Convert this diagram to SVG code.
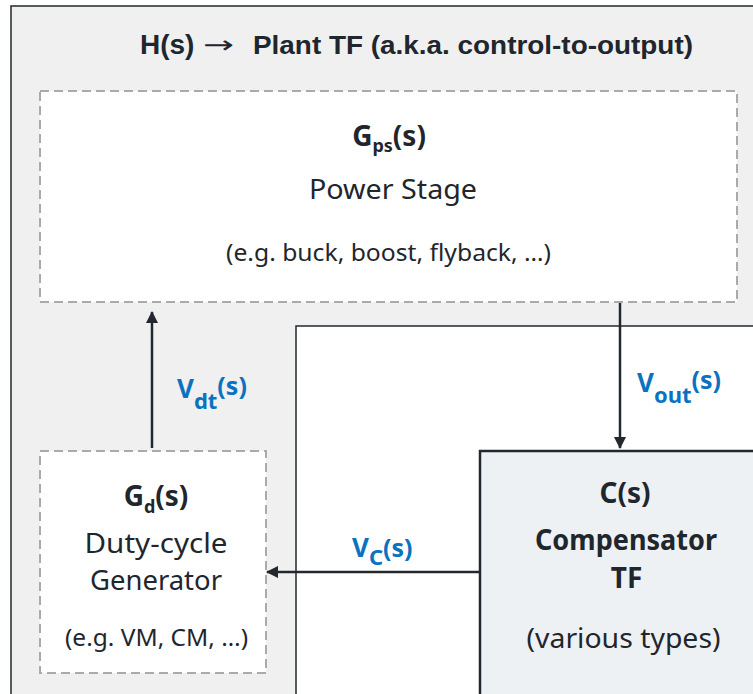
<svg xmlns="http://www.w3.org/2000/svg" width="753" height="694" viewBox="0 0 753 694">
<style>
.t{font-family:"Noto Sans","DejaVu Sans",sans-serif;fill:#1f262d}
.b{font-weight:bold}
.lbl{font-family:"Noto Sans","DejaVu Sans",sans-serif;font-weight:bold;fill:#0b72c0}
.dash{fill:#ffffff;stroke:#aaaaaa;stroke-width:2;stroke-dasharray:9 5}
.conn{stroke:#22282e;stroke-width:2.5;fill:none}
</style>
<defs>
<marker id="ah" viewBox="0 0 12 12" refX="11" refY="6" markerWidth="12" markerHeight="12" markerUnits="userSpaceOnUse" orient="auto">
<path d="M0,0 L12,6 L0,12 z" fill="#22282e"/>
</marker>
</defs>
<g id="plant">
<rect x="11" y="6" width="800" height="750" fill="#f0f0f0" stroke="#22282e" stroke-width="1.5"/>
<text x="140" y="54" font-family="'Liberation Sans',Arial,sans-serif" font-weight="bold" font-size="28" fill="#1f262d">H(s)</text>
<text x="203" y="53" font-family="'DejaVu Sans',sans-serif" font-size="24" fill="#1f262d" textLength="31" lengthAdjust="spacingAndGlyphs">→</text>
<text x="253" y="54" font-family="'Liberation Sans',Arial,sans-serif" font-weight="bold" font-size="26" fill="#1f262d" textLength="440" lengthAdjust="spacingAndGlyphs">Plant TF (a.k.a. control-to-output)</text>
</g>
<g id="loop-area">
<rect x="296" y="326" width="600" height="500" fill="#ffffff" stroke="#22282e" stroke-width="1.5"/>
</g>
<g id="power-stage">
<rect class="dash" x="40" y="91" width="697" height="211"/>
<text class="t b" x="389" y="146" font-size="28" text-anchor="middle">G<tspan font-size="18" dy="6">ps</tspan><tspan dy="-6">(s)</tspan></text>
<text class="t" x="393" y="199" font-size="28" text-anchor="middle" textLength="168" lengthAdjust="spacingAndGlyphs">Power Stage</text>
<text class="t" x="388.5" y="261" font-size="23" text-anchor="middle" textLength="325" lengthAdjust="spacingAndGlyphs">(e.g. buck, boost, flyback, …)</text>
</g>
<g id="duty-cycle-generator">
<rect class="dash" x="40" y="451" width="226" height="222"/>
<text class="t b" x="156" y="506" font-size="28" text-anchor="middle">G<tspan font-size="18" dy="7">d</tspan><tspan dy="-7">(s)</tspan></text>
<text class="t" x="156" y="553" font-size="28" text-anchor="middle" textLength="143" lengthAdjust="spacingAndGlyphs">Duty-cycle</text>
<text class="t" x="156" y="590" font-size="28" text-anchor="middle" textLength="132" lengthAdjust="spacingAndGlyphs">Generator</text>
<text class="t" x="156.5" y="646" font-size="23" text-anchor="middle" textLength="183" lengthAdjust="spacingAndGlyphs">(e.g. VM, CM, …)</text>
</g>
<g id="compensator">
<rect x="480" y="451" width="400" height="400" fill="#eef1f4" stroke="#22282e" stroke-width="2.5"/>
<text class="t b" x="625" y="503" font-size="28" text-anchor="middle">C(s)</text>
<text class="t b" x="626" y="550" font-size="28" text-anchor="middle" textLength="182" lengthAdjust="spacingAndGlyphs">Compensator</text>
<text class="t b" x="626.5" y="588" font-size="28" text-anchor="middle">TF</text>
<text class="t" x="623.5" y="648" font-size="27" text-anchor="middle" textLength="194" lengthAdjust="spacingAndGlyphs">(various types)</text>
</g>
<g id="connectors">
<line class="conn" x1="152" y1="448" x2="152" y2="312" marker-end="url(#ah)"/>
<line class="conn" x1="620" y1="303" x2="620" y2="448" marker-end="url(#ah)"/>
<line class="conn" x1="479" y1="572" x2="267" y2="572" marker-end="url(#ah)"/>
<text class="lbl" x="177" y="398" font-size="26">V<tspan font-size="22" dy="11">dt</tspan><tspan font-size="25" dy="-14">(s)</tspan></text>
<text class="lbl" x="637" y="392" font-size="26">V<tspan font-size="22" dy="11">out</tspan><tspan font-size="25" dy="-14">(s)</tspan></text>
<text class="lbl" x="352" y="557" font-size="26">V<tspan font-size="22" dy="8">C</tspan><tspan font-size="25" dy="-8">(s)</tspan></text>
</g>
</svg>
